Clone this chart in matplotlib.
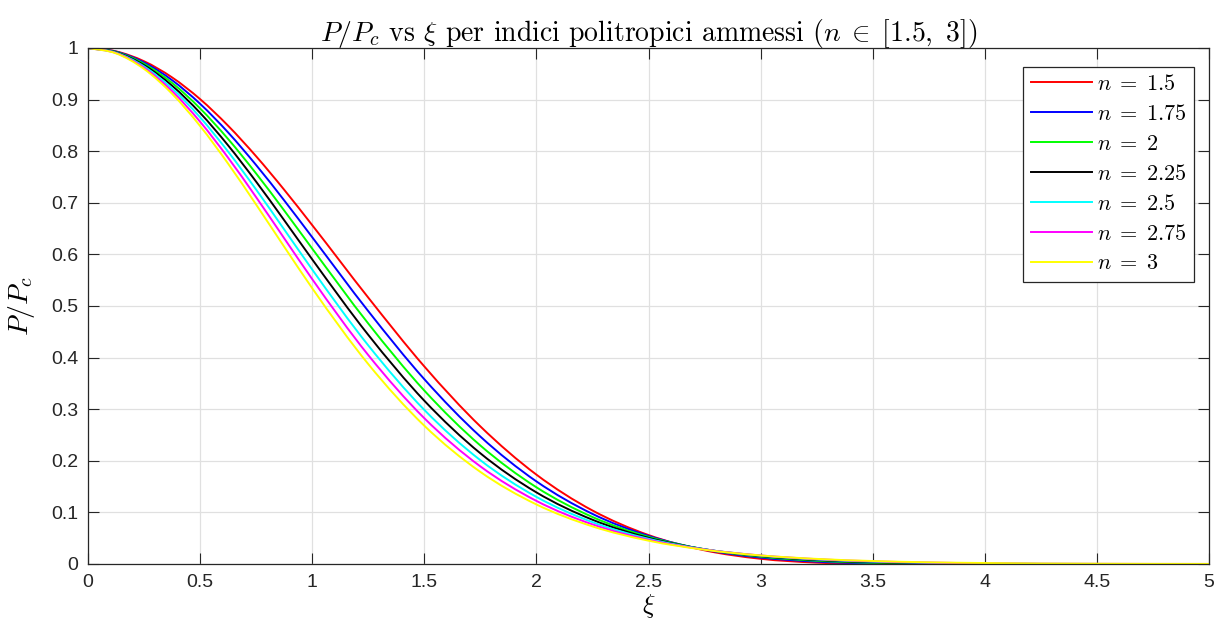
import matplotlib
matplotlib.use("Agg")
import matplotlib.pyplot as plt
from matplotlib.path import Path
from matplotlib.patches import PathPatch
from matplotlib.lines import Line2D

# Values (P/Pc at each xi, one list per polytropic index)
xi = [0, 0.125, 0.25, 0.375, 0.5, 0.625, 0.75, 0.875, 1, 1.25, 1.5, 1.75, 2,
      2.25, 2.5, 2.75, 3, 3.25, 3.5, 3.75, 4, 4.5, 5]

p_n150 = [1, 0.9935, 0.9743, 0.9430, 0.9009, 0.8493, 0.7901, 0.7253, 0.6567, 0.5163,
          0.3829, 0.2667, 0.1732, 0.1037, 0.0561, 0.0265, 0.0101, 0.0026, 0.0002,
          0, 0, 0, 0]
p_n175 = [1, 0.9929, 0.9718, 0.9376, 0.8918, 0.8363, 0.7731, 0.7047, 0.6333, 0.4901,
          0.3582, 0.2470, 0.1601, 0.0971, 0.0545, 0.0278, 0.0125, 0.0046, 0.0012,
          0.0001, 0, 0, 0]
p_n200 = [1, 0.9922, 0.9693, 0.9323, 0.8829, 0.8236, 0.7567, 0.6851, 0.6112, 0.4661,
          0.3362, 0.2297, 0.1487, 0.0911, 0.0526, 0.0285, 0.0142, 0.0063, 0.0024,
          0.0007, 0.0001, 0, 0]
p_n225 = [1, 0.9916, 0.9668, 0.9269, 0.8742, 0.8112, 0.7409, 0.6663, 0.5904, 0.4441,
          0.3165, 0.2146, 0.1388, 0.0858, 0.0507, 0.0286, 0.0154, 0.0076, 0.0035,
          0.0014, 0.0005, 0, 0]
p_n250 = [1, 0.9909, 0.9643, 0.9217, 0.8656, 0.7991, 0.7256, 0.6484, 0.5707, 0.4237,
          0.2987, 0.2012, 0.1301, 0.0811, 0.0489, 0.0285, 0.0162, 0.0087, 0.0045,
          0.0022, 0.0010, 0.0001, 0]
p_n275 = [1, 0.9903, 0.9618, 0.9165, 0.8571, 0.7873, 0.7108, 0.6313, 0.5521, 0.4049,
          0.2826, 0.1892, 0.1223, 0.0768, 0.0470, 0.0282, 0.0166, 0.0094, 0.0052,
          0.0028, 0.0014, 0.0003, 0.0001]
p_n300 = [1, 0.9896, 0.9594, 0.9113, 0.8488, 0.7758, 0.6965, 0.6149, 0.5345, 0.3875,
          0.2680, 0.1785, 0.1154, 0.0729, 0.0452, 0.0276, 0.0166, 0.0099, 0.0058,
          0.0033, 0.0019, 0.0006, 0.0002]

labels = ["1.5", "1.75", "2", "2.25", "2.5", "2.75", "3"]
colors = ["#ff0000", "#0000ff", "#00ff00", "#000000", "#00ffff", "#ff00ff", "#ffff00"]

x_ticks = [0, 0.5, 1, 1.5, 2, 2.5, 3, 3.5, 4, 4.5, 5]
x_tick_labels = ["0", "0.5", "1", "1.5", "2", "2.5", "3", "3.5", "4", "4.5", "5"]
y_ticks = [0, 0.1, 0.2, 0.3, 0.4, 0.5, 0.6, 0.7, 0.8, 0.9, 1]
y_tick_labels = ["0", "0.1", "0.2", "0.3", "0.4", "0.5", "0.6", "0.7", "0.8", "0.9", "1"]


def smooth_path(x, y):
    # smooth curve through the read points (cubic Bezier segments, Hermite tangents)
    n = len(x)
    m = []
    for i in range(n):
        if i == 0:
            m.append((y[1] - y[0]) / (x[1] - x[0]))
        elif i == n - 1:
            m.append((y[-1] - y[-2]) / (x[-1] - x[-2]))
        else:
            h0 = x[i] - x[i - 1]
            h1 = x[i + 1] - x[i]
            d0 = (y[i] - y[i - 1]) / h0
            d1 = (y[i + 1] - y[i]) / h1
            m.append((d0 * h1 + d1 * h0) / (h0 + h1))
    verts = [(x[0], y[0])]
    codes = [Path.MOVETO]
    for i in range(n - 1):
        h = x[i + 1] - x[i]
        verts += [(x[i] + h / 3, y[i] + m[i] * h / 3),
                  (x[i + 1] - h / 3, y[i + 1] - m[i + 1] * h / 3),
                  (x[i + 1], y[i + 1])]
        codes += [Path.CURVE4] * 3
    return Path(verts, codes)


def main():
    plt.rcParams['mathtext.fontset'] = 'cm'
    plt.rcParams['font.family'] = ['Liberation Sans', 'DejaVu Sans']

    fig = plt.figure(figsize=(12.15, 6.27), dpi=100)
    ax = fig.add_axes([88 / 1215, 1 - 564 / 627, (1209 - 88) / 1215, (564 - 48) / 627])

    series = [p_n150, p_n175, p_n200, p_n225, p_n250, p_n275, p_n300]
    handles = []
    for vals, lab, col in zip(series, labels, colors):
        ax.add_patch(PathPatch(smooth_path(xi, vals), fill=False, edgecolor=col,
                               lw=1.4, capstyle='round', joinstyle='round'))
        handles.append(Line2D([], [], color=col, lw=1.4, label=r'$n\;=\;%s$' % lab))

    ax.set_xlim(0, 5)
    ax.set_ylim(0, 1)
    ax.set_xticks(x_ticks)
    ax.set_xticklabels(x_tick_labels)
    ax.set_yticks(y_ticks)
    ax.set_yticklabels(y_tick_labels)

    ax.grid(True, color='#e0e0e0', lw=0.9)
    ax.set_axisbelow(True)
    ax.tick_params(direction='in', length=8, width=0.8, top=True, right=True,
                   colors='#262626', labelsize=14, pad=7)
    for sp in ax.spines.values():
        sp.set_color('#262626')
        sp.set_linewidth(0.9)

    ax.set_xlabel(r'$\xi$', fontsize=19, labelpad=1)
    ax.set_ylabel(r'$P/P_c$', fontsize=20, labelpad=10)
    ax.set_title(r'$P/P_c$ vs $\xi$ per indici politropici ammessi $(n\;\in\;[1.5,\ 3])$',
                 fontsize=20, fontfamily='cmr10', pad=5)

    leg = ax.legend(handles=handles, loc='upper right', bbox_to_anchor=(0.9866, 0.9632),
                    borderaxespad=0, fontsize=16, handlelength=2.75, handletextpad=0.25,
                    labelspacing=0.4, fancybox=False, framealpha=1, edgecolor='#262626',
                    borderpad=0.32)
    leg.get_frame().set_linewidth(0.9)

    fig.savefig('out.png', dpi=100)


if __name__ == "__main__":
    main()
